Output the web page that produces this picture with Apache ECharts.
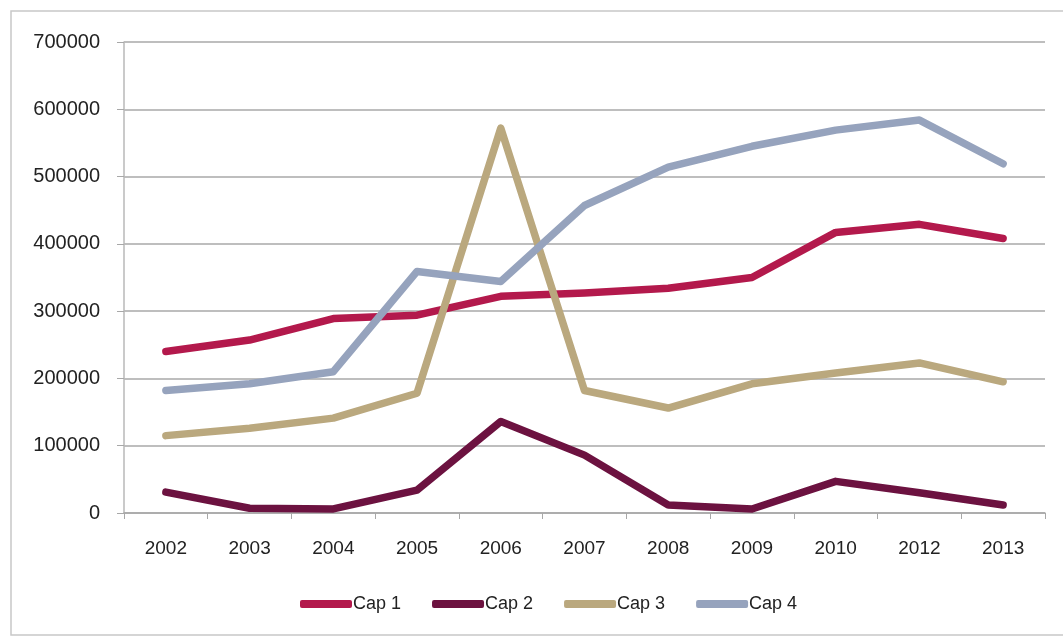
<!DOCTYPE html>
<html>
<head>
<meta charset="utf-8">
<script src="https://cdn.jsdelivr.net/npm/echarts@6/dist/echarts.min.js"></script>
<style>
html,body{margin:0;padding:0;background:#fff;}
#chart{width:1063px;height:637px;}
</style>
</head>
<body>
<div id="chart"></div>
<script>
var categories = ['2002','2003','2004','2005','2006','2007','2008','2009','2010','2012','2013'];
var cap1 = [240000, 257000, 289000, 294000, 322000, 327000, 334000, 350000, 417000, 429000, 408000];
var cap2 = [31000, 7000, 6000, 34000, 136000, 86000, 12000, 6000, 47000, 30000, 12000];
var cap3 = [115000, 126000, 141000, 178000, 572000, 182000, 156000, 192000, 208000, 223000, 195000];
var cap4 = [182000, 192000, 210000, 359000, 344000, 457000, 514000, 545000, 569000, 584000, 519000];
var seriesNames = ['Cap 1','Cap 2','Cap 3','Cap 4'];
var seriesColors = ['#b3194c','#6c1240','#baa87e','#96a3bd'];

var chart = echarts.init(document.getElementById('chart'), null, {renderer:'canvas'});
var data = [cap1, cap2, cap3, cap4];
var series = data.map(function(d, i){
  return {
    name: seriesNames[i],
    type: 'line',
    data: d,
    showSymbol: false,
    symbol: 'none',
    lineStyle: {width: 7.5, color: seriesColors[i], cap: 'round', join: 'round'},
    itemStyle: {color: seriesColors[i]}
  };
});
chart.setOption({
  animation: false,
  backgroundColor: '#fff',
  graphic: [{
    type: 'rect',
    shape: {x: 11, y: 11, width: 1060, height: 624},
    style: {fill: 'none', stroke: '#c8c8c8', lineWidth: 1.5},
    silent: true
  }],
  grid: {left: 124, right: 18, top: 42, bottom: 124},
  legend: {
    data: seriesNames,
    left: 295,
    top: 590,
    icon: 'roundRect',
    itemWidth: 52,
    itemHeight: 8,
    itemGap: 31,
    textStyle: {fontFamily: 'Liberation Sans', fontSize: 18, color: '#222', padding: [0,0,0,-4]}
  },
  xAxis: {
    type: 'category',
    data: categories,
    boundaryGap: true,
    axisLine: {lineStyle: {color: '#a8a8a8', width: 1.5}},
    axisTick: {show: true, length: 6, lineStyle: {color: '#a8a8a8'}},
    axisLabel: {fontFamily: 'Liberation Sans', fontSize: 19, color: '#222', margin: 26},
    splitLine: {show: false}
  },
  yAxis: {
    type: 'value',
    min: 0,
    max: 700000,
    interval: 100000,
    axisLine: {show: true, lineStyle: {color: '#b8b8b8', width: 1.5}},
    axisTick: {show: true, length: 7, lineStyle: {color: '#a8a8a8'}},
    axisLabel: {fontFamily: 'Liberation Sans', fontSize: 20, color: '#222', margin: 24,
      formatter: function(v){ return String(v); }},
    splitLine: {show: true, lineStyle: {color: '#a8a8a8', width: 1.5}}
  },
  series: series
});
</script>
</body>
</html>
